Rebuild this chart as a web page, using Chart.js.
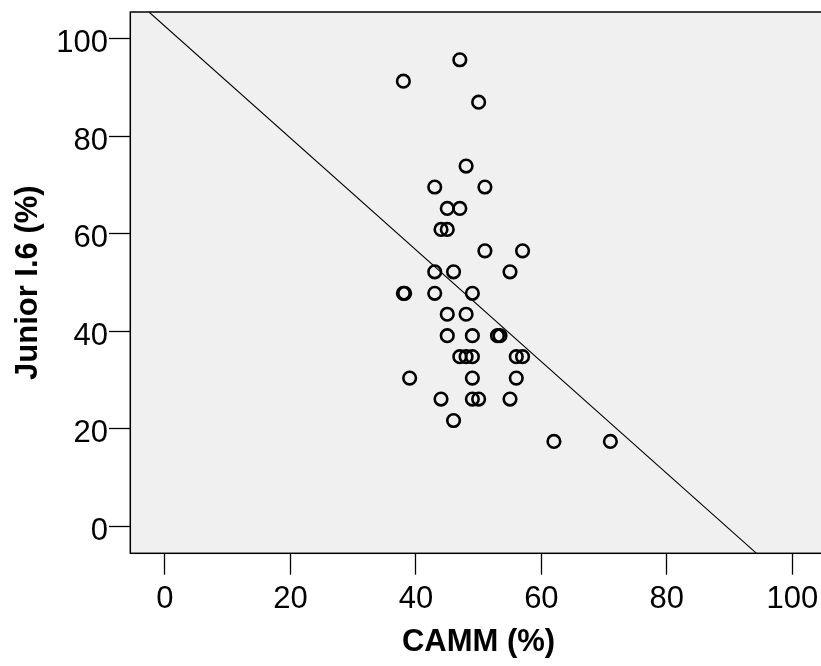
<!DOCTYPE html>
<html>
<head>
<meta charset="utf-8">
<script src="https://cdn.jsdelivr.net/npm/chart.js@4.4.0/dist/chart.umd.min.js"></script>
<style>
  html, body { margin: 0; padding: 0; background: #fff; overflow: hidden; }
  #wrap { position: absolute; left: 0; top: 0; width: 860px; height: 666px; }
</style>
</head>
<body>
<div id="wrap"><canvas id="myChart" width="860" height="666"></canvas></div>
<script>
// data
const camm = [47, 38, 50, 48, 43, 51, 45, 47, 44, 45, 51, 57, 43, 46, 55, 38, 38.2, 43, 49,
  45, 48, 45, 49, 53, 53.4, 47, 48, 49, 56, 57, 39, 49, 56, 44, 49, 50, 55, 46, 62, 71];
const junior = [95.7, 91.3, 87.0, 73.9, 69.6, 69.6, 65.2, 65.2, 60.9, 60.9, 56.5, 56.5, 52.2, 52.2, 52.2, 47.8, 47.8, 47.8, 47.8,
  43.5, 43.5, 39.1, 39.1, 39.1, 39.1, 34.8, 34.8, 34.8, 34.8, 34.8, 30.4, 30.4, 30.4, 26.1, 26.1, 26.1, 26.1, 21.7, 17.4, 17.4];

// reference line end points
const lineX = [-2.55, 94.3];
const lineY = [105.5, -5.54];

const xTicks = [0, 20, 40, 60, 80, 100];
const yTicks = [0, 20, 40, 60, 80, 100];

const points = camm.map((v, i) => ({ x: v, y: junior[i] }));
const linePts = lineX.map((v, i) => ({ x: v, y: lineY[i] }));

// grey plot area + frame
const frame = {
  id: 'frame',
  beforeDatasetsDraw(chart) {
    const a = chart.chartArea, c = chart.ctx;
    c.save();
    c.fillStyle = '#f0f0f0';
    c.fillRect(a.left, a.top, a.right - a.left, a.bottom - a.top);
    c.restore();
  },
  afterDatasetsDraw(chart) {
    const a = chart.chartArea, c = chart.ctx;
    c.save();
    c.strokeStyle = '#000';
    c.lineWidth = 1.5;
    c.strokeRect(a.left, a.top, a.right - a.left, a.bottom - a.top);
    c.restore();
  }
};

const tickFont = { family: 'Liberation Sans, Arial, sans-serif', size: 31, lineHeight: 1.2 };
const titleFont = { family: 'Liberation Sans, Arial, sans-serif', size: 31, weight: 'bold', lineHeight: 1.2 };

let ctx = document.getElementById('myChart').getContext('2d');
let chart = new Chart(ctx, {
  type: 'scatter',
  data: {
    datasets: [
      {
        data: points,
        pointStyle: 'circle',
        pointRadius: 6.3,
        pointBorderWidth: 2.6,
        pointBorderColor: '#000',
        pointBackgroundColor: 'rgba(0,0,0,0)',
        showLine: false
      },
      {
        type: 'line',
        data: linePts,
        borderColor: '#000',
        borderWidth: 1.1,
        pointRadius: 0,
        fill: false
      }
    ]
  },
  options: {
    responsive: false,
    animation: false,
    devicePixelRatio: 1,
    events: [],
    layout: { padding: { left: 0, top: 12, right: 33.2, bottom: 0 } },
    plugins: { legend: { display: false }, tooltip: { enabled: false } },
    scales: {
      x: {
        type: 'linear',
        min: -5.53,
        max: 105.5,
        afterBuildTicks: s => { s.ticks = xTicks.map(v => ({ value: v })); },
        afterFit: s => { s.height = 112.7; s.paddingLeft = 0; s.paddingRight = 0; },
        grid: { drawOnChartArea: false, drawTicks: true, tickLength: 21.4, tickColor: '#000', tickWidth: 1.3 },
        border: { display: false },
        ticks: { color: '#000', font: tickFont, padding: 6, maxRotation: 0 },
        title: { display: true, text: 'CAMM (%)', color: '#000', font: titleFont, padding: { top: 0, bottom: 5.4 } }
      },
      y: {
        type: 'linear',
        min: -5.54,
        max: 105.5,
        afterBuildTicks: s => { s.ticks = yTicks.map(v => ({ value: v })); },
        afterFit: s => { s.width = 130.3; s.paddingTop = 0; s.paddingBottom = 0; },
        grid: { drawOnChartArea: false, drawTicks: true, tickLength: 21.3, tickColor: '#000', tickWidth: 1.3 },
        border: { display: false },
        ticks: { color: '#000', font: tickFont, padding: 1, labelOffset: 5 },
        title: { display: true, text: 'Junior I.6 (%)', color: '#000', font: titleFont, padding: { top: 10.1, bottom: 0 } }
      }
    }
  },
  plugins: [frame]
});
</script>
</body>
</html>
